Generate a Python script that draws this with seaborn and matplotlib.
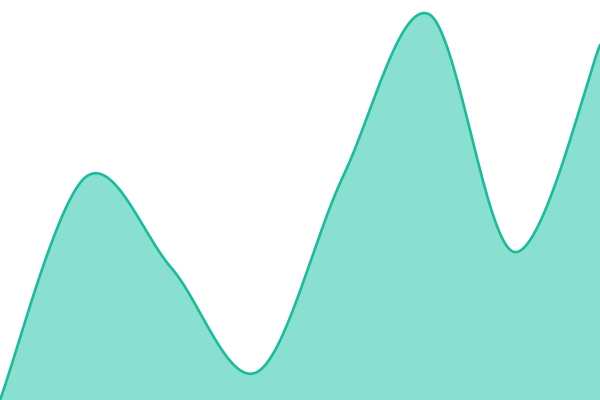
import numpy as np
import pandas as pd
import matplotlib
matplotlib.use("Agg")
import matplotlib.pyplot as plt
import seaborn as sns

# Data
positions = [0, 1, 2, 3, 4, 5, 6, 7]
values = [0, 223, 132, 28, 223, 386, 148, 355]


def catmull_rom(xs, ys, n=60):
    xs = np.asarray(xs, float)
    ys = np.asarray(ys, float)
    px = np.concatenate([[xs[0]], xs, [xs[-1]]])
    py = np.concatenate([[ys[0]], ys, [ys[-1]]])
    ox, oy = [], []
    for i in range(1, len(px) - 2):
        t = np.linspace(0, 1, n, endpoint=(i == len(px) - 3))
        t2, t3 = t * t, t * t * t
        for p, out in ((px, ox), (py, oy)):
            p0, p1, p2, p3 = p[i - 1], p[i], p[i + 1], p[i + 2]
            out.append(0.5 * ((2 * p1) + (-p0 + p2) * t + (2 * p0 - 5 * p1 + 4 * p2 - p3) * t2
                              + (-p0 + 3 * p1 - 3 * p2 + p3) * t3))
    return np.concatenate(ox), np.concatenate(oy)


sx, sy = catmull_rom(positions, values)
df = pd.DataFrame({"x": sx, "y": sy})

sns.set_style("white")
fig = plt.figure(figsize=(6, 4), dpi=100)
ax = fig.add_axes([0, 0, 1, 1])
ax.fill_between(df["x"], df["y"], 0, color="#8ae0d0", linewidth=0)
sns.lineplot(data=df, x="x", y="y", ax=ax, color="#1abc9c", linewidth=1.9, sort=False)
ax.set_xlim(positions[0], positions[-1])
ax.set_ylim(0, 400)
ax.axis("off")
fig.savefig("out.png", dpi=100)
